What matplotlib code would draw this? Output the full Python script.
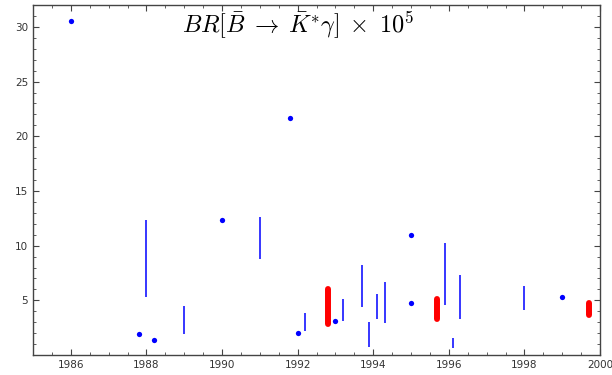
import matplotlib
matplotlib.use("Agg")
import matplotlib.pyplot as plt
from matplotlib.ticker import MultipleLocator

plt.rcParams['mathtext.fontset'] = 'cm'

# Point measurements (year, value)
point_years = [1986.0, 1987.8, 1988.2, 1990.0, 1991.8, 1992.0, 1993.0, 1995.0, 1995.0, 1999.0]
point_vals = [30.5, 1.9, 1.4, 12.3, 21.7, 2.05, 3.15, 11.0, 4.72, 5.3]

# Range measurements (year, low, high)
range_years = [1988.0, 1989.0, 1991.0, 1992.2, 1993.2, 1993.7, 1993.9, 1994.1, 1994.3, 1995.9, 1996.1, 1996.3, 1998.0]
range_low = [5.3, 1.9, 8.8, 2.2, 3.1, 4.4, 0.75, 3.3, 2.9, 4.55, 0.6, 3.25, 4.1]
range_high = [12.3, 4.45, 12.6, 3.8, 5.1, 8.2, 3.05, 5.6, 6.7, 10.2, 1.6, 7.3, 6.3]

# Highlighted measurements (year, low, high)
red_years = [1992.8, 1995.7, 1999.7]
red_low = [2.85, 3.25, 3.7]
red_high = [6.05, 5.1, 4.75]

fig = plt.figure(figsize=(6.12, 3.75), dpi=100)
ax = fig.add_axes([33/612, 1-355/375, (600-33)/612, (355-5)/375])

ax.vlines(range_years, range_low, range_high, colors='#0000ff', linewidth=1.1)
for x, lo, hi in zip(red_years, red_low, red_high):
    ax.plot([x, x], [lo, hi], color='#ff0000', linewidth=4.3, solid_capstyle='round')
ax.plot(point_years, point_vals, 'o', color='#0000ff', markersize=3.8, markeredgewidth=0)

ax.set_xlim(1985, 2000)
ax.set_ylim(0, 32)
ax.xaxis.set_major_locator(MultipleLocator(2))
ax.xaxis.set_minor_locator(MultipleLocator(0.5))
ax.yaxis.set_major_locator(MultipleLocator(5))
ax.yaxis.set_minor_locator(MultipleLocator(1))
ax.set_yticks([5, 10, 15, 20, 25, 30])

ax.tick_params(which='both', direction='in', top=True, right=True, labeltop=False, labelright=False,
               colors='#444444', labelcolor='#333333', labelsize=7.5)
ax.tick_params(which='major', length=4, width=0.8)
ax.tick_params(which='minor', length=2, width=0.6)
for s in ax.spines.values():
    s.set_color('#444444')
    s.set_linewidth(1.0)

ax.text(1992.0, 30.15, r'$BR[\bar{B}\;\rightarrow\;\bar{K}^{*}\gamma]\;\times\;10^{5}$',
        ha='center', va='center', fontsize=17.5, color='black')

fig.savefig('out.png', dpi=100)
